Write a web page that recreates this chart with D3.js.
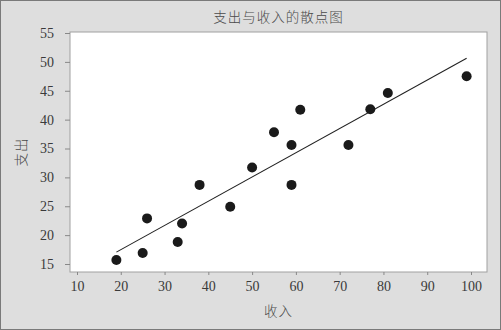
<!DOCTYPE html>
<html>
<head>
<meta charset="utf-8">
<script src="https://cdn.jsdelivr.net/npm/d3@7"></script>
<style>
  body { margin: 0; background: #fff; }
  svg { display: block; }
  text { font-family: "Liberation Serif", "Noto Sans CJK SC", serif; fill: #3a3a3a; }
  .cjk { font-family: "Noto Sans CJK SC", sans-serif; font-weight: 300; fill: #4a4a4a; }
</style>
</head>
<body>
<svg width="501" height="330"></svg>
<script>
var income  = [19, 25, 26, 33, 34, 38, 45, 50, 55, 59, 59, 61, 72, 77, 81, 99];
var expense = [15.7, 16.9, 22.9, 18.8, 22, 28.7, 24.9, 31.7, 37.8, 35.6, 28.7, 41.7, 35.6, 41.8, 44.6, 47.5];
var xTicks = [10, 20, 30, 40, 50, 60, 70, 80, 90, 100];
var yTicks = [15, 20, 25, 30, 35, 40, 45, 50, 55];

var svg = d3.select("svg"),
    width = +svg.attr("width"),
    height = +svg.attr("height");

var box = { left: 70, right: 487, top: 32, bottom: 272 };

// background + frame
svg.append("rect")
    .attr("x", 0.5).attr("y", 0.5)
    .attr("width", width - 1).attr("height", height - 1)
    .attr("fill", "#dedede")
    .attr("stroke", "#7a7a7a");

svg.append("rect")
    .attr("x", box.left).attr("y", box.top)
    .attr("width", box.right - box.left).attr("height", box.bottom - box.top)
    .attr("fill", "#fff")
    .attr("stroke", "#a0a0a0");

var x = d3.scaleLinear().domain([10, 100]).range([77, 471]);
var y = d3.scaleLinear().domain([15, 55]).range([264, 33]);

var xAxis = svg.append("g")
    .attr("transform", "translate(0," + box.bottom + ")")
    .call(d3.axisBottom(x).tickValues(xTicks).tickSize(3).tickPadding(6));

var yAxis = svg.append("g")
    .attr("transform", "translate(" + box.left + ",0)")
    .call(d3.axisLeft(y).tickValues(yTicks).tickSize(5).tickPadding(11));

[xAxis, yAxis].forEach(function(g) {
    g.select(".domain").remove();
    g.selectAll("line").attr("stroke", "#888");
    g.selectAll("text")
        .style("font-family", "'Liberation Serif', serif")
        .style("font-size", "14px")
        .attr("fill", "#3a3a3a");
});

// least-squares fit line
var mx = d3.mean(income), my = d3.mean(expense);
var sxy = d3.sum(income, function(d, i) { return (d - mx) * (expense[i] - my); });
var sxx = d3.sum(income, function(d) { return (d - mx) * (d - mx); });
var slope = sxy / sxx, intercept = my - slope * mx;
var ext = d3.extent(income);

svg.append("line")
    .attr("x1", x(ext[0])).attr("y1", y(intercept + slope * ext[0]))
    .attr("x2", x(ext[1])).attr("y2", y(intercept + slope * ext[1]))
    .attr("stroke", "#222")
    .attr("stroke-width", 1.1);

svg.append("g")
    .selectAll("circle")
    .data(income)
    .enter().append("circle")
    .attr("cx", function(d) { return x(d); })
    .attr("cy", function(d, i) { return y(expense[i]); })
    .attr("r", 5)
    .attr("fill", "#1a1a1a");

svg.append("text")
    .attr("class", "cjk")
    .attr("x", (box.left + box.right) / 2)
    .attr("y", 22)
    .attr("text-anchor", "middle")
    .style("font-size", "13.5px")
    .style("letter-spacing", "1px")
    .text("支出与收入的散点图");

svg.append("text")
    .attr("class", "cjk")
    .attr("x", (box.left + box.right) / 2)
    .attr("y", 316)
    .attr("text-anchor", "middle")
    .style("font-size", "13.5px")
    .style("letter-spacing", "1px")
    .text("收入");

svg.append("text")
    .attr("class", "cjk")
    .attr("transform", "translate(26,152) rotate(-90)")
    .attr("text-anchor", "middle")
    .style("font-size", "13.5px")
    .style("letter-spacing", "1px")
    .text("支出");
</script>
</body>
</html>
